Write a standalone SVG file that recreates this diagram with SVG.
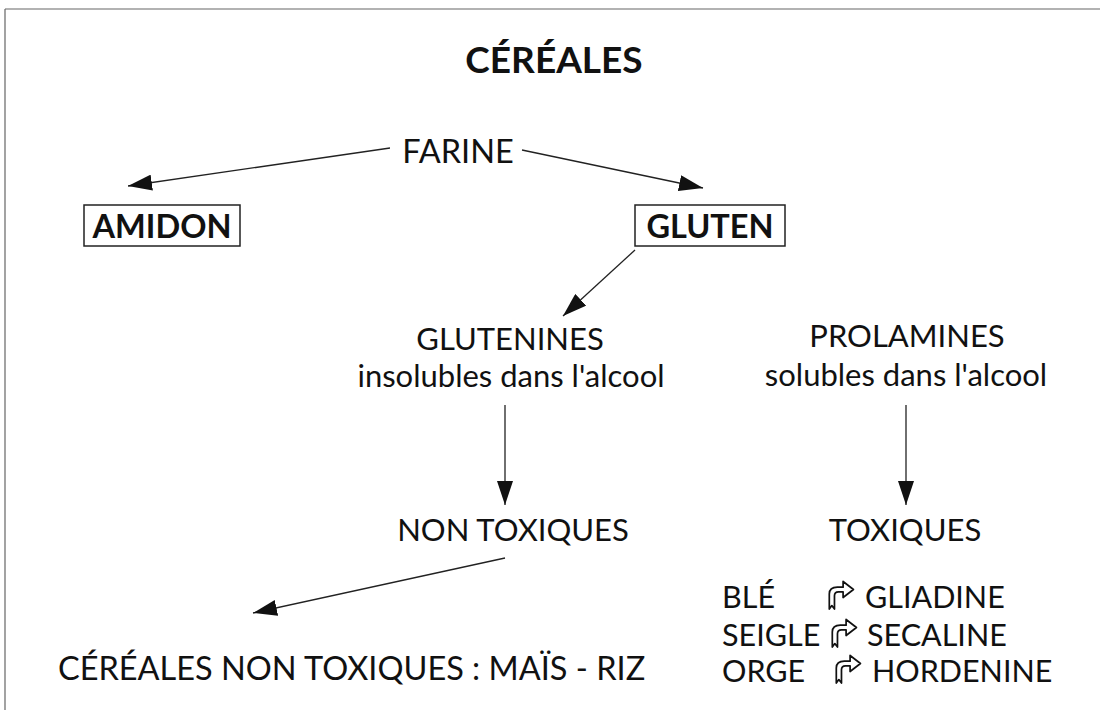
<svg xmlns="http://www.w3.org/2000/svg" width="1100" height="710" viewBox="0 0 1100 710">
<style>
.t{font-family:Lato,"Liberation Sans",sans-serif;fill:#111;font-size:31px;}
.b{font-weight:bold;}
.l{font-size:32.5px;}
.s{font-size:30.5px;}
.h{font-size:37px;}
.c{stroke:#222;stroke-width:1.3;fill:none;}
.box{fill:none;stroke:#222;stroke-width:1.5;}
.sym{fill:#fff;stroke:#111;stroke-width:1.5;stroke-linejoin:round;}
</style>
<defs>
<marker id="ah" viewBox="0 0 24 16" refX="24" refY="8" markerWidth="24" markerHeight="16" markerUnits="userSpaceOnUse" orient="auto">
<path d="M0,0 L24,8 L0,16 z" fill="#111"/>
</marker>
<path id="bent" d="M2,27 L2,14 Q2,8 9,8 L14,8 L14,3 L23,10 L14,17 L14,12 L10,12 Q6.5,12 6.5,15.5 L6.5,27 L4.2,24 Z"/>
</defs>
<rect width="1100" height="710" fill="#fff"/>
<path d="M5,9 H1100 M5,9 V710" stroke="#666" stroke-width="1.2" fill="none"/>
<text id="title" class="t b h" x="554" y="73" text-anchor="middle">CÉRÉALES</text>
<g id="farine"><text class="t l" x="458" y="163" text-anchor="middle">FARINE</text></g>
<g id="amidon"><rect class="box" x="84" y="205" width="156" height="41"/><text class="t b l" x="162" y="238" text-anchor="middle">AMIDON</text></g>
<g id="gluten"><rect class="box" x="635" y="205" width="150" height="41"/><text class="t b l" x="710" y="238" text-anchor="middle">GLUTEN</text></g>
<g id="glutenines"><text class="t" x="510" y="350" text-anchor="middle">GLUTENINES</text><text class="t" x="511" y="387" text-anchor="middle">insolubles dans l'alcool</text></g>
<g id="prolamines"><text class="t" x="907" y="347" text-anchor="middle">PROLAMINES</text><text class="t" x="906" y="386" text-anchor="middle">solubles dans l'alcool</text></g>
<g id="nontox"><text class="t" x="513" y="541" text-anchor="middle">NON TOXIQUES</text></g>
<g id="tox"><text class="t" x="905" y="541" text-anchor="middle">TOXIQUES</text></g>
<g id="cereales-nt"><text class="t l" x="58" y="680">CÉRÉALES NON TOXIQUES : MAÏS - RIZ</text></g>
<g id="liste">
<text class="t s" x="722" y="608">BLÉ</text>
<text class="t s" x="722" y="646">SEIGLE</text>
<text class="t s" x="722" y="682">ORGE</text>
<use href="#bent" class="sym" transform="translate(827,578) scale(1.15)"/>
<use href="#bent" class="sym" transform="translate(830,616) scale(1.15)"/>
<use href="#bent" class="sym" transform="translate(834,652) scale(1.15)"/>
<text class="t s" x="865" y="608">GLIADINE</text>
<text class="t s" x="867" y="646">SECALINE</text>
<text class="t s" x="872" y="682">HORDENINE</text>
</g>
<g id="connectors">
<line class="c" x1="390" y1="148" x2="128" y2="186" marker-end="url(#ah)"/>
<line class="c" x1="522" y1="150" x2="703" y2="188" marker-end="url(#ah)"/>
<line class="c" x1="635" y1="250" x2="563" y2="316" marker-end="url(#ah)"/>
<line class="c" x1="505" y1="405" x2="505" y2="505" marker-end="url(#ah)"/>
<line class="c" x1="906" y1="405" x2="906" y2="505" marker-end="url(#ah)"/>
<line class="c" x1="505" y1="558" x2="253" y2="613" marker-end="url(#ah)"/>
</g>
</svg>
